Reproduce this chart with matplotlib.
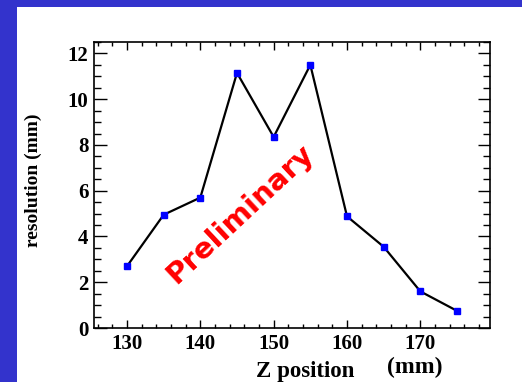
import matplotlib
matplotlib.use('Agg')
import matplotlib.pyplot as plt
from matplotlib.patches import Rectangle
from matplotlib.ticker import MultipleLocator

# resolution vs Z position
z_pos = [130, 135, 140, 145, 150, 155, 160, 165, 170, 175]
resolution = [2.7, 4.95, 5.7, 11.15, 8.35, 11.5, 4.88, 3.55, 1.6, 0.75]

x_ticks = [130, 140, 150, 160, 170]
y_ticks = [0, 2, 4, 6, 8, 10, 12]

fig = plt.figure(figsize=(5.22, 3.82), dpi=100)
fig.patch.set_facecolor('#3333cc')
# white panel inside the blue frame
panel = Rectangle((17 / 522, 0), 1, 1 - 7 / 382, transform=fig.transFigure,
                  facecolor='white', edgecolor='none', zorder=-10)
fig.add_artist(panel)

ax = fig.add_axes([94 / 522, 1 - 328 / 382, 396 / 522, 286 / 382])
ax.set_zorder(1)
ax.plot(z_pos, resolution, color='black', lw=1.6, marker='s', markersize=4.5,
        markerfacecolor='#0000ff', markeredgecolor='#0000ff', zorder=3)

ax.set_xlim(125.5, 179.5)
ax.set_ylim(0, 12.5)
ax.set_xticks(x_ticks)
ax.set_yticks(y_ticks)
ax.xaxis.set_minor_locator(MultipleLocator(2))
ax.yaxis.set_minor_locator(MultipleLocator(0.5))

ax.tick_params(axis='both', which='both', direction='in', top=True, right=True, width=1.0)
ax.tick_params(axis='y', which='major', length=9)
ax.tick_params(axis='y', which='minor', length=5)
ax.tick_params(axis='x', which='major', length=6)
ax.tick_params(axis='x', which='minor', length=3)
ax.tick_params(axis='both', which='major', labelsize=15, pad=4)
for lab in ax.get_xticklabels() + ax.get_yticklabels():
    lab.set_fontfamily('Liberation Serif')
    lab.set_fontweight('bold')
for sp in ax.spines.values():
    sp.set_linewidth(1.2)

fig.text(33 / 522, 1 - 180 / 382, 'resolution (mm)', rotation=90, ha='center', va='center',
         fontsize=14, fontweight='bold', family='Liberation Serif')
fig.text(305 / 522, 1 - 371 / 382, 'Z position', ha='center', va='center',
         fontsize=16.5, fontweight='bold', family='Liberation Serif')
fig.text(415 / 522, 1 - 367 / 382, '(mm)', ha='center', va='center',
         fontsize=17, fontweight='bold', family='Liberation Serif')

ax.text(0.37, 0.40, 'Preliminary', transform=ax.transAxes, rotation=43,
        ha='center', va='center', color='#ff0000', fontsize=21, fontweight='bold',
        family='DejaVu Sans')

fig.savefig('out.png', dpi=100, facecolor=fig.get_facecolor())
